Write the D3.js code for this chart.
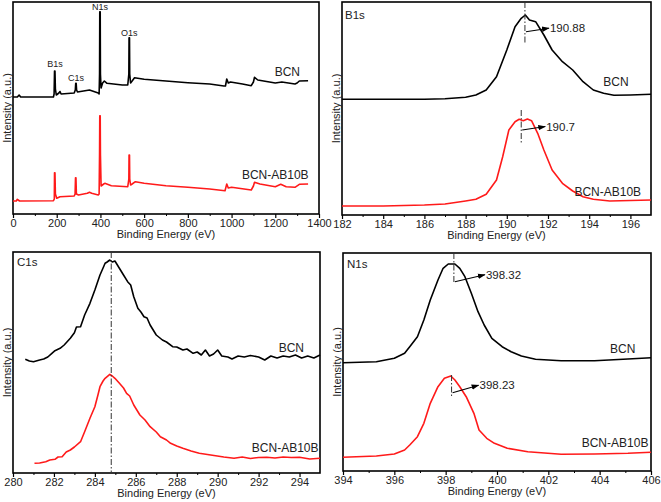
<!DOCTYPE html>
<html><head><meta charset="utf-8">
<script src="https://cdn.jsdelivr.net/npm/d3@7"></script>
<style>body{margin:0;background:#fff}svg{display:block}text{font-family:"Liberation Sans",Arial,Helvetica,sans-serif}</style>
</head><body><svg id="c" width="661" height="502"></svg>
<script>
// ---------- DATA (binding energy eV, intensity a.u.) ----------
const surveyBCN = [[0,117],[20,117],[28,119],[35,117],[100,117],[150,117],[185,117],[188,120],[190,143],[192,143],[194,125],[198,119],[210,121],[215,122.5],[220,120],[280,121],[285,124],[287,130.7],[289,130.7],[291,124],[295,122],[350,124],[390,121],[394,120],[396,140],[397,202.3],[399,202.3],[400,140],[403,126],[410,131],[418,133],[430,130.7],[500,129],[525,129],[530,140],[531,176.3],[533,176.3],[534,140],[538,131],[545,133],[556,136.3],[600,134.7],[700,133],[800,131.3],[900,130],[965,128],[972,128],[978,135],[985,131],[995,132],[1050,130],[1090,128.3],[1100,132],[1105,136.7],[1120,134],[1200,131],[1230,132],[1260,131],[1290,130],[1300,131],[1310,133],[1350,133.3]];
const surveyAB = [[0,13],[15,13],[20,14.7],[30,13],[185,13.3],[189,15],[190,41.3],[192,41.3],[194,20],[200,15.7],[215,17.3],[280,18],[284,20],[286,36.3],[288,36.3],[290,20],[300,19],[340,20.7],[350,21.7],[360,20.7],[390,19],[394,20],[396,60],[397,98.3],[399,98.3],[400,60],[403,28],[415,30],[420,30.7],[450,28.3],[525,27.3],[530,35],[531,59],[533,59],[534,35],[538,29],[545,30],[560,32.3],[600,30.7],[700,28.3],[800,26.7],[900,25],[970,23.3],[978,30],[985,26],[1000,26.7],[1090,24],[1100,28],[1105,31.7],[1130,30],[1200,27.3],[1225,29.7],[1250,27.3],[1290,26.7],[1310,29.7],[1350,30]];
const surveyPeakNames = ["B1s","C1s","N1s","O1s"];
const surveyPeakPos = [[192,147],[288,133],[398,204],[532,178]];

const b1sBCN = [[182,115.7],[186,115.7],[187,116.3],[188,117.7],[188.5,120],[189,125],[189.5,138.3],[190,165],[190.4,188.3],[190.7,196.7],[190.9,200],[191.1,195],[191.4,193.3],[191.8,180],[192.2,165],[192.7,153.3],[193.2,145],[193.7,133.3],[194.2,125],[194.7,121.7],[195.2,119.7],[196,120],[197,120.7]];
const b1sAB = [[182,9],[184,9],[186,10],[187,11],[188,14],[188.5,15.7],[189,20.7],[189.5,35],[189.8,58.3],[190.1,85],[190.4,93.3],[190.6,95.7],[190.8,94.3],[191.0,96],[191.2,94.3],[191.5,81.7],[191.8,65],[192.2,45],[192.7,31.7],[193.2,24],[193.7,18.3],[194.2,15.7],[195,14],[197,15]];
const b1sPeaks = [190.88, 190.7];

const c1sBCN = [[280.6,113.7],[280.8,112],[281.0,111.3],[281.3,113],[281.5,114],[281.7,116],[281.9,119.7],[282.05,122.3],[282.3,124.7],[282.5,128],[282.8,134.7],[283.0,140.3],[283.1,146],[283.3,146.3],[283.5,158],[283.76,169.7],[284.0,183],[284.25,198],[284.4,205],[284.5,209.7],[284.6,211],[284.73,213],[284.85,211],[284.98,212],[285.1,208],[285.25,203],[285.4,198],[285.6,191.3],[285.75,188],[285.9,176.3],[286.1,164.7],[286.25,161],[286.4,156.3],[286.55,155],[286.7,148],[287.0,138],[287.3,133],[287.5,131],[287.8,126.3],[288.0,126],[288.3,123],[288.5,124],[288.8,119.7],[289.0,121],[289.2,118],[289.4,123],[289.6,117],[289.8,119],[290.0,123],[290.2,117],[290.5,116],[290.7,114],[291.0,117],[291.3,116],[291.6,117.5],[292.0,116],[292.3,113],[292.6,117],[292.9,115],[293.2,117],[293.5,116],[293.8,118],[294.1,115],[294.4,117],[294.7,115],[295.0,118]];
const c1sAB = [[281.05,9.7],[281.3,10],[281.6,11.3],[281.8,13],[282.05,13.7],[282.2,16],[282.4,16.3],[282.6,21],[282.8,23],[283.0,26],[283.3,31.3],[283.5,41.3],[283.76,54.7],[284.0,66.3],[284.15,78],[284.25,86.3],[284.4,92],[284.5,94.7],[284.73,98.7],[284.85,97],[284.98,94.7],[285.2,89.7],[285.4,85],[285.55,79.7],[285.7,77],[285.9,68],[286.2,58],[286.45,53],[286.7,46.3],[287.0,41],[287.2,36.3],[287.5,33],[287.7,29.7],[288.0,27],[288.3,24.7],[288.7,22],[289.1,19.7],[289.5,18.5],[289.9,17.3],[290.3,16],[290.8,14.7],[291.2,16],[291.6,14.5],[292.0,15.5],[292.4,15.7],[292.8,15],[293.2,16],[293.6,15.5],[294.0,15.7],[294.5,14],[295.0,14.7]];
const c1sPeak = 284.8;

const n1sBCN = [[394.0,108.3],[395.3,109.3],[396.0,112.7],[396.4,117.7],[396.6,124.3],[396.9,134.3],[397.15,151],[397.4,171],[397.7,191],[397.9,202.7],[398.1,207],[398.36,207],[398.55,202.7],[398.75,194.3],[399.0,177.7],[399.26,159.3],[399.5,146],[399.8,132.7],[400.2,124.3],[400.55,119.3],[400.95,115],[401.5,111.7],[402.5,110.3],[403.8,110.3],[405.1,112],[406.0,113.3]];
const n1sAB = [[394.0,13.7],[395.3,15],[396.0,17],[396.4,21],[396.6,26],[396.9,34.3],[397.15,47.7],[397.4,67.7],[397.7,84.3],[397.95,92.7],[398.2,95],[398.36,91],[398.55,84.3],[398.8,74.3],[399.1,57.7],[399.3,41],[399.6,32.7],[399.9,27.7],[400.4,22.7],[401.2,19.3],[402.5,16.7],[403.8,17],[405.1,17.7],[406.0,18.7]];
const n1sPeaks = [398.32, 398.23];

const seriesNames = ["BCN","BCN-AB10B"];
const xTitle = "Binding Energy (eV)";
const yTitle = "Intensity (a.u.)";

// ---------- DRAWING ----------
const svg = d3.select("#c");
const BLACK = "#000", RED = "#ff1a1a";
const line = (x,y) => d3.line().x(d=>x(d[0])).y(d=>y(d[1]));

function panel(o){
  const g = svg.append("g");
  const x = d3.scaleLinear().domain(o.xd).range([o.l,o.r]);
  const y = d3.scaleLinear().domain([0,o.b-o.t]).range([o.b,o.t]);
  g.append("g").attr("transform",`translate(0,${o.b})`)
    .call(d3.axisBottom(x).tickValues(o.minor).tickSize(2).tickFormat(""))
    .call(a=>a.select(".domain").remove()).selectAll("line").attr("stroke","#000").attr("stroke-width",1);
  const ax = g.append("g").attr("transform",`translate(0,${o.b})`)
    .call(d3.axisBottom(x).tickValues(o.ticks).tickSize(4).tickPadding(1).tickFormat(d3.format("d")));
  ax.select(".domain").remove();
  ax.selectAll("line").attr("stroke","#000").attr("stroke-width",1.2);
  ax.selectAll("text").attr("font-size",11).attr("fill","#222").attr("font-family",'"Liberation Sans",Arial,sans-serif');
  g.append("rect").attr("x",o.l).attr("y",o.t).attr("width",o.r-o.l).attr("height",o.b-o.t)
    .attr("fill","none").attr("stroke","#000").attr("stroke-width",1.6);
  g.append("text").attr("x",(o.l+o.r)/2).attr("y",o.b+24).attr("text-anchor","middle")
    .attr("font-size",11).attr("fill","#222").text(xTitle);
  g.append("text").attr("transform",`translate(${o.l-2.5},${(o.t+o.b)/2}) rotate(-90)`)
    .attr("text-anchor","middle").attr("font-size",11).attr("fill","#222").text(yTitle);
  o.series.forEach((s,i)=>{
    g.append("path").datum(s).attr("fill","none").attr("stroke",i?RED:BLACK)
      .attr("stroke-width",1.6).attr("stroke-linejoin","round").attr("d",line(x,y));
  });
  return {g,x,y};
}

svg.append("defs").append("marker").attr("id","ah").attr("viewBox","0 0 10 10")
  .attr("refX",9).attr("refY",5).attr("markerWidth",7).attr("markerHeight",7).attr("orient","auto")
  .append("path").attr("d","M0,1.5L10,5L0,8.5Z").attr("fill","#000");

function dashLine(p,xv,i0,i1){
  p.g.append("line").attr("x1",p.x(xv)).attr("x2",p.x(xv)).attr("y1",p.y(i0)).attr("y2",p.y(i1))
    .attr("stroke","#333").attr("stroke-width",1).attr("stroke-dasharray","6,2,1.5,2");
}
function arrowLabel(p,xv,i0,dx,di,label){
  const x0=p.x(xv), y0=p.y(i0), x1=x0+dx, y1=y0-di;
  p.g.append("line").attr("x1",x0+1).attr("y1",y0).attr("x2",x1).attr("y2",y1)
    .attr("stroke","#000").attr("stroke-width",1.1).attr("marker-end","url(#ah)");
  p.g.append("text").attr("x",x1+1).attr("y",y1+4).attr("font-size",11.5).attr("fill","#222").text(label);
}
function txt(p,xv,iv,s,anchor,size){
  p.g.append("text").attr("x",p.x(xv)).attr("y",p.y(iv)).attr("text-anchor",anchor||"middle")
    .attr("font-size",size||11.5).attr("fill","#222").text(s);
}

const p1 = panel({l:13,r:319,t:2,b:214,xd:[0,1400],ticks:d3.range(0,1401,200),minor:d3.range(100,1400,200),series:[surveyBCN,surveyAB]});
surveyPeakNames.forEach((n,i)=>txt(p1,surveyPeakPos[i][0],surveyPeakPos[i][1],n,"middle",9));
txt(p1,1255,138,seriesNames[0],"middle",12);
txt(p1,1200,35,seriesNames[1],"middle",12);

const p2 = panel({l:342,r:651,t:2,b:215,xd:[182,197],ticks:d3.range(182,197,2),minor:d3.range(183,197,2),series:[b1sBCN,b1sAB]});
dashLine(p2,b1sPeaks[0],213,172);
arrowLabel(p2,b1sPeaks[0],183.3,24,3.5,"190.88");
dashLine(p2,b1sPeaks[1],105,71.7);
arrowLabel(p2,b1sPeaks[1],85,24,3.5,"190.7");
p2.g.append("text").attr("x",345).attr("y",19).attr("font-size",11.5).attr("fill","#222").text("B1s");
txt(p2,195.3,129,seriesNames[0],"middle",12);
txt(p2,194.9,19,seriesNames[1],"middle",12);

const p3 = panel({l:13,r:320,t:252,b:473,xd:[280,295],ticks:d3.range(280,295,2),minor:d3.range(281,295,2),series:[c1sBCN,c1sAB]});
dashLine(p3,c1sPeak,221,0);
p3.g.append("text").attr("x",17).attr("y",266).attr("font-size",11.5).attr("fill","#222").text("C1s");
txt(p3,293.6,121,seriesNames[0],"middle",12);
txt(p3,293.3,21,seriesNames[1],"middle",12);

const p4 = panel({l:343,r:651,t:253,b:471,xd:[394,406],ticks:d3.range(394,407,2),minor:d3.range(395,406,2),series:[n1sBCN,n1sAB]});
dashLine(p4,n1sPeaks[0],218,188);
arrowLabel(p4,n1sPeaks[0],189.3,31,7,"398.32");
dashLine(p4,n1sPeaks[1],96,74.3);
arrowLabel(p4,n1sPeaks[1],78.3,27,7.5,"398.23");
p4.g.append("text").attr("x",347).attr("y",268).attr("font-size",11.5).attr("fill","#222").text("N1s");
txt(p4,404.9,118,seriesNames[0],"middle",12);
txt(p4,404.6,24,seriesNames[1],"middle",12);
</script></body></html>
